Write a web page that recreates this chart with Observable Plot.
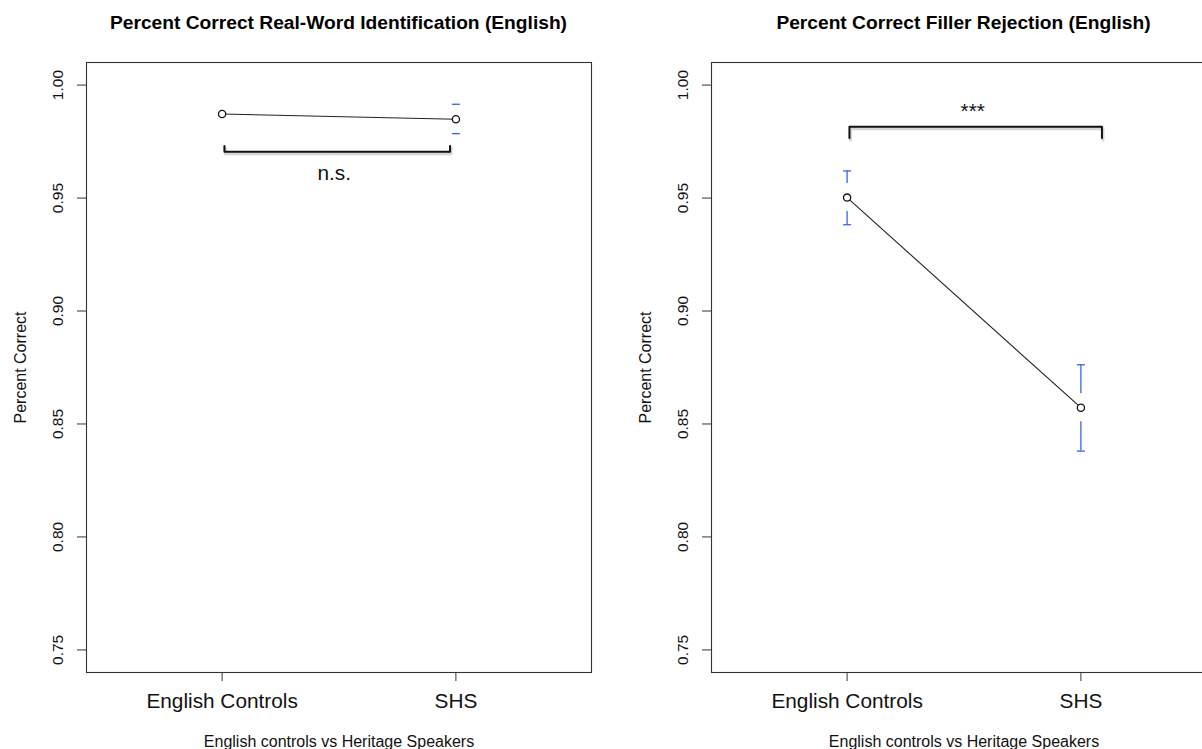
<!DOCTYPE html>
<html>
<head>
<meta charset="utf-8">
<script src="https://cdn.jsdelivr.net/npm/d3@7"></script>
<script src="https://cdn.jsdelivr.net/npm/@observablehq/plot@0.6"></script>
<style>
  html, body { margin: 0; padding: 0; background: #fff; overflow: hidden; width: 1202px; height: 749px; }
  #row { position: relative; width: 1202px; height: 749px; overflow: hidden; }
  .panel { position: absolute; top: 0; height: 749px; overflow: visible; }
  .panel svg { max-width: none !important; display: block; }
  .title {
    height: 46px; line-height: 46px; box-sizing: border-box;
    padding-left: 86px; text-align: center; width: 591px;
    font-family: "Liberation Sans", Arial, Helvetica, sans-serif;
    font-weight: bold; font-size: 19.2px; color: #000; white-space: nowrap;
  }
</style>
</head>
<body>
<div id="row"></div>
<script>
// Groups on the x axis (plotted at positions 1 and 2)
const groups = ["English Controls", "SHS"];
const xPositions = [1, 2];
const yTicks = [0.75, 0.80, 0.85, 0.90, 0.95, 1.00];

// Real-word identification: means and error-bar bounds
const realWordMean  = [0.9872, 0.9849];
const realWordLower = [0.9810, 0.9785];
const realWordUpper = [0.9934, 0.9915];

// Filler rejection: means and error-bar bounds
const fillerMean  = [0.9502, 0.8572];
const fillerLower = [0.9382, 0.8380];
const fillerUpper = [0.9620, 0.8762];

// Significance brackets (x from/to, bar level, tip level, label)
const bracketFrom  = [1.01, 1.01];
const bracketTo    = [1.975, 2.09];
const bracketLevel = [0.9705, 0.9816];
const bracketTip   = [0.9730, 0.9766];
const bracketLabel = ["n.s.", "***"];

const titles = [
  "Percent Correct Real-Word Identification (English)",
  "Percent Correct Filler Rejection (English)"
];

const ERR_GAP = 0.0062;           // error bars start this far from the mean
const BLUE = "#3a63e8";
const FONT = "'Liberation Sans', Arial, Helvetica, sans-serif";
const PANEL_W = 625;              // each panel's full width; the second one runs past the page edge

// horizontal stroke used for the error-bar caps
const capSymbol = {
  draw(context, size) {
    const r = Math.sqrt(size / Math.PI);
    context.moveTo(-r, 0);
    context.lineTo(r, 0);
  }
};

function panel(k, mean, lower, upper, svgWidth) {
  const idx = d3.range(groups.length);
  const pts = idx.map(i => ({x: xPositions[i], y: mean[i]}));
  const up = idx.map(i => ({x: xPositions[i], y0: mean[i] + ERR_GAP, y1: Math.max(upper[i], mean[i] + ERR_GAP), show: upper[i] - mean[i] > ERR_GAP + 0.0001}));
  const dn = idx.map(i => ({x: xPositions[i], y0: mean[i] - ERR_GAP, y1: Math.min(lower[i], mean[i] - ERR_GAP), show: mean[i] - lower[i] > ERR_GAP + 0.0001}));
  const br = [
    {x: bracketFrom[k], y: bracketTip[k]},
    {x: bracketFrom[k], y: bracketLevel[k]},
    {x: bracketTo[k], y: bracketLevel[k]},
    {x: bracketTo[k], y: bracketTip[k]}
  ];
  const labelBelow = bracketTip[k] > bracketLevel[k];
  const lab = [{x: (bracketFrom[k] + bracketTo[k]) / 2, y: bracketLevel[k], text: bracketLabel[k]}];

  return Plot.plot({
    width: svgWidth,
    height: 703,
    marginTop: 16,
    marginBottom: 77,
    marginLeft: 86,
    marginRight: svgWidth - (PANEL_W - 34),
    x: {type: "linear", domain: [0.42, 2.58]},
    y: {type: "linear", domain: [0.74, 1.01]},
    style: {fontFamily: FONT, fontSize: "16px", background: "white", color: "#000", overflow: "visible"},
    marks: [
      Plot.frame({stroke: "#333", strokeWidth: 1.1}),
      Plot.axisY({ticks: yTicks, tickSize: 9, tickFormat: () => "", stroke: "#333", label: null}),
      Plot.text(yTicks, {y: d => d, text: d => d.toFixed(2), frameAnchor: "left", dx: -28,
        rotate: -90, textAnchor: "middle", lineAnchor: "middle", fontSize: 15.5, fill: "#111"}),
      Plot.axisX({ticks: xPositions, tickSize: 9, tickPadding: 12, tickFormat: d => groups[d - 1],
        fontSize: 20.8, stroke: "#333", fill: "#111", label: null}),
      Plot.text(["Percent Correct"], {frameAnchor: "left", dx: -66, rotate: -90,
        textAnchor: "middle", lineAnchor: "middle", fontSize: 16, fill: "#111"}),
      Plot.text(["English controls vs Heritage Speakers"], {frameAnchor: "bottom", dy: 69,
        textAnchor: "middle", lineAnchor: "middle", fontSize: 16, fill: "#111"}),
      // error bars
      Plot.ruleX(up, {x: "x", y1: "y0", y2: "y1", stroke: BLUE, strokeWidth: 1.3}),
      Plot.ruleX(dn, {x: "x", y1: "y0", y2: "y1", stroke: BLUE, strokeWidth: 1.3}),
      Plot.dot(up.filter(d => d.show), {x: "x", y: "y1", symbol: capSymbol, r: 4, stroke: BLUE, strokeWidth: 1.3, fill: "none"}),
      Plot.dot(dn.filter(d => d.show), {x: "x", y: "y1", symbol: capSymbol, r: 4, stroke: BLUE, strokeWidth: 1.3, fill: "none"}),
      // means
      Plot.line(pts, {x: "x", y: "y", stroke: "#222", strokeWidth: 1.1}),
      Plot.dot(pts, {x: "x", y: "y", r: 3.6, stroke: "#111", strokeWidth: 1.3, fill: "white"}),
      // significance bracket with a soft shadow
      Plot.line(br, {x: "x", y: "y", stroke: "#888", strokeOpacity: 0.35, strokeWidth: 3, dx: 1, dy: 2}),
      Plot.line(br, {x: "x", y: "y", stroke: "#111", strokeWidth: 2}),
      Plot.text(lab, {x: "x", y: "y", text: "text", dx: -3, dy: labelBelow ? 22 : -15,
        textAnchor: "middle", lineAnchor: "middle", fontSize: 20.8, fill: "#111"})
    ]
  });
}

const row = document.getElementById("row");
const series = [[realWordMean, realWordLower, realWordUpper], [fillerMean, fillerLower, fillerUpper]];
series.forEach(([m, lo, hi], k) => {
  const left = k * PANEL_W;
  const svgWidth = Math.min(PANEL_W, 1202 - left);
  const div = document.createElement("div");
  div.className = "panel";
  div.style.left = left + "px";
  div.style.width = svgWidth + "px";
  const t = document.createElement("div");
  t.className = "title";
  t.textContent = titles[k];
  div.appendChild(t);
  div.appendChild(panel(k, m, lo, hi, svgWidth));
  row.appendChild(div);
});
</script>
</body>
</html>
